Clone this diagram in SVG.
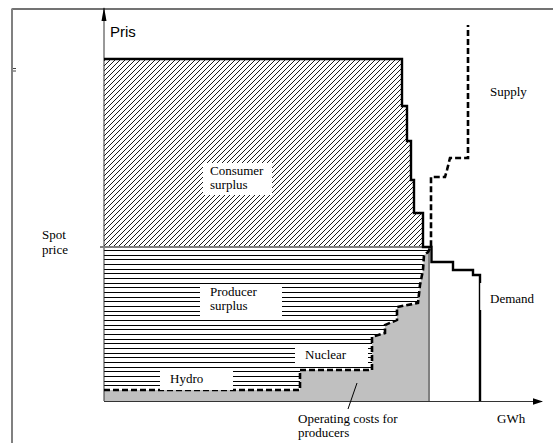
<svg xmlns="http://www.w3.org/2000/svg" width="553" height="443" viewBox="0 0 553 443">
<style>
.lbl{font-family:"Liberation Serif","Times New Roman",serif;font-size:13px;fill:#000}
.box{fill:#fff;stroke:none}
.sup{fill:none;stroke:#000;stroke-width:2.6;stroke-dasharray:6 3}
.dem{fill:none;stroke:#000;stroke-width:2.4}
</style>
<defs>
<pattern id="diag" patternUnits="userSpaceOnUse" width="5" height="5">
<path d="M-1,1 L1,-1 M0,5 L5,0 M4,6 L6,4" stroke="#000" stroke-width="0.9"/>
</pattern>
<pattern id="horiz" patternUnits="userSpaceOnUse" width="10" height="14" y="250">
<path d="M0,0.5 H10 M0,5.5 H10 M0,9.5 H10" stroke="#000" stroke-width="1" shape-rendering="crispEdges"/>
</pattern>
<marker id="arr" markerWidth="10" markerHeight="8" refX="9" refY="4" orient="auto" markerUnits="userSpaceOnUse">
<path d="M0,0.8 L10,4 L0,7.2 Z" fill="#000"/>
</marker>
<marker id="arrY" markerWidth="14" markerHeight="6" refX="13" refY="3" orient="auto" markerUnits="userSpaceOnUse">
<path d="M0,0.5 L14,3 L0,5.5 Z" fill="#000"/>
</marker>
</defs>
<rect width="553" height="443" fill="#fff"/>

<g id="frame">
<line x1="12" y1="9" x2="553" y2="9" stroke="#444" stroke-width="1.5"/>
<line x1="12" y1="8.5" x2="12" y2="443" stroke="#808080" stroke-width="2"/>
<path d="M13,68.5 H16 M13,71 H16" stroke="#444" stroke-width="1"/>
</g>

<g id="consumer-surplus">
<path d="M104,59 H402 V106 H407 V141 H411 V180 H414 V213 H423 V247 H104 Z" fill="url(#diag)"/>
</g>

<g id="operating-costs">
<path d="M104,390 H300 V370 H372 V337 L385,333 V325 L397,320 V307 L418,303 L420,285 L423,270 L424,255 L428,252 L430,247 H429 V401 H104 Z" fill="#c0c0c0"/>
</g>

<g id="producer-surplus">
<path d="M104,247 H430 L428,252 L424,255 L423,270 L420,285 L418,303 L397,307 V320 L385,325 V333 L372,337 V370 H300 V390 H104 Z" fill="url(#horiz)"/>
</g>

<g id="connectors">
<line x1="104" y1="401" x2="104" y2="8" stroke="#333" stroke-width="1" marker-end="url(#arrY)"/>
<line x1="104" y1="401.5" x2="542" y2="401.5" stroke="#333" stroke-width="1" marker-end="url(#arr)"/>
<line x1="100" y1="247" x2="430" y2="247" stroke="#808080" stroke-width="2"/>
<line x1="429" y1="247" x2="429" y2="401" stroke="#808080" stroke-width="2"/>
<path class="dem" d="M104,59 H402 V106 H407 V141 H411 V180 H414 V213 H423 V247 H431.5 V262 H453 V270 H473 V275 H480 V401"/>
<path class="sup" d="M104,390 H300 V370 H372 V337 L385,333 V325 L397,320 V307 L418,303 L420,285 L423,270 L424,255 L428,252 L431,247 V177 H445 L447,170 L450,158 H468 V25"/>
<line x1="357" y1="383" x2="348" y2="409" stroke="#000" stroke-width="1"/>
</g>

<g id="label-pris"><text x="110" y="37" font-family="'Liberation Sans',Arial,sans-serif" font-size="15">Pris</text></g>
<g id="label-consumer">
<rect class="box" x="203" y="163" width="69" height="32"/>
<text class="lbl" x="210" y="175">Consumer</text>
<text class="lbl" x="210" y="189">surplus</text>
</g>
<g id="label-producer">
<rect class="box" x="200" y="285" width="82" height="33"/>
<text class="lbl" x="210" y="296">Producer</text>
<text class="lbl" x="210" y="310">surplus</text>
</g>
<g id="label-hydro">
<rect class="box" x="160" y="370" width="73" height="20"/>
<text class="lbl" x="170" y="383">Hydro</text>
</g>
<g id="label-nuclear">
<rect class="box" x="295" y="347" width="73" height="20"/>
<text class="lbl" x="305" y="359">Nuclear</text>
</g>
<g id="label-demand">
<rect class="box" x="480.2" y="283" width="60" height="27"/>
<text class="lbl" x="490" y="303">Demand</text>
</g>
<g id="label-supply"><text class="lbl" x="490" y="96">Supply</text></g>
<g id="label-spot">
<text class="lbl" x="42" y="239">Spot</text>
<text class="lbl" x="42" y="254">price</text>
</g>
<g id="label-gwh"><text class="lbl" x="497" y="423">GWh</text></g>
<g id="label-opcost">
<text class="lbl" x="298" y="423">Operating costs for</text>
<text class="lbl" x="298" y="437">producers</text>
</g>
</svg>
